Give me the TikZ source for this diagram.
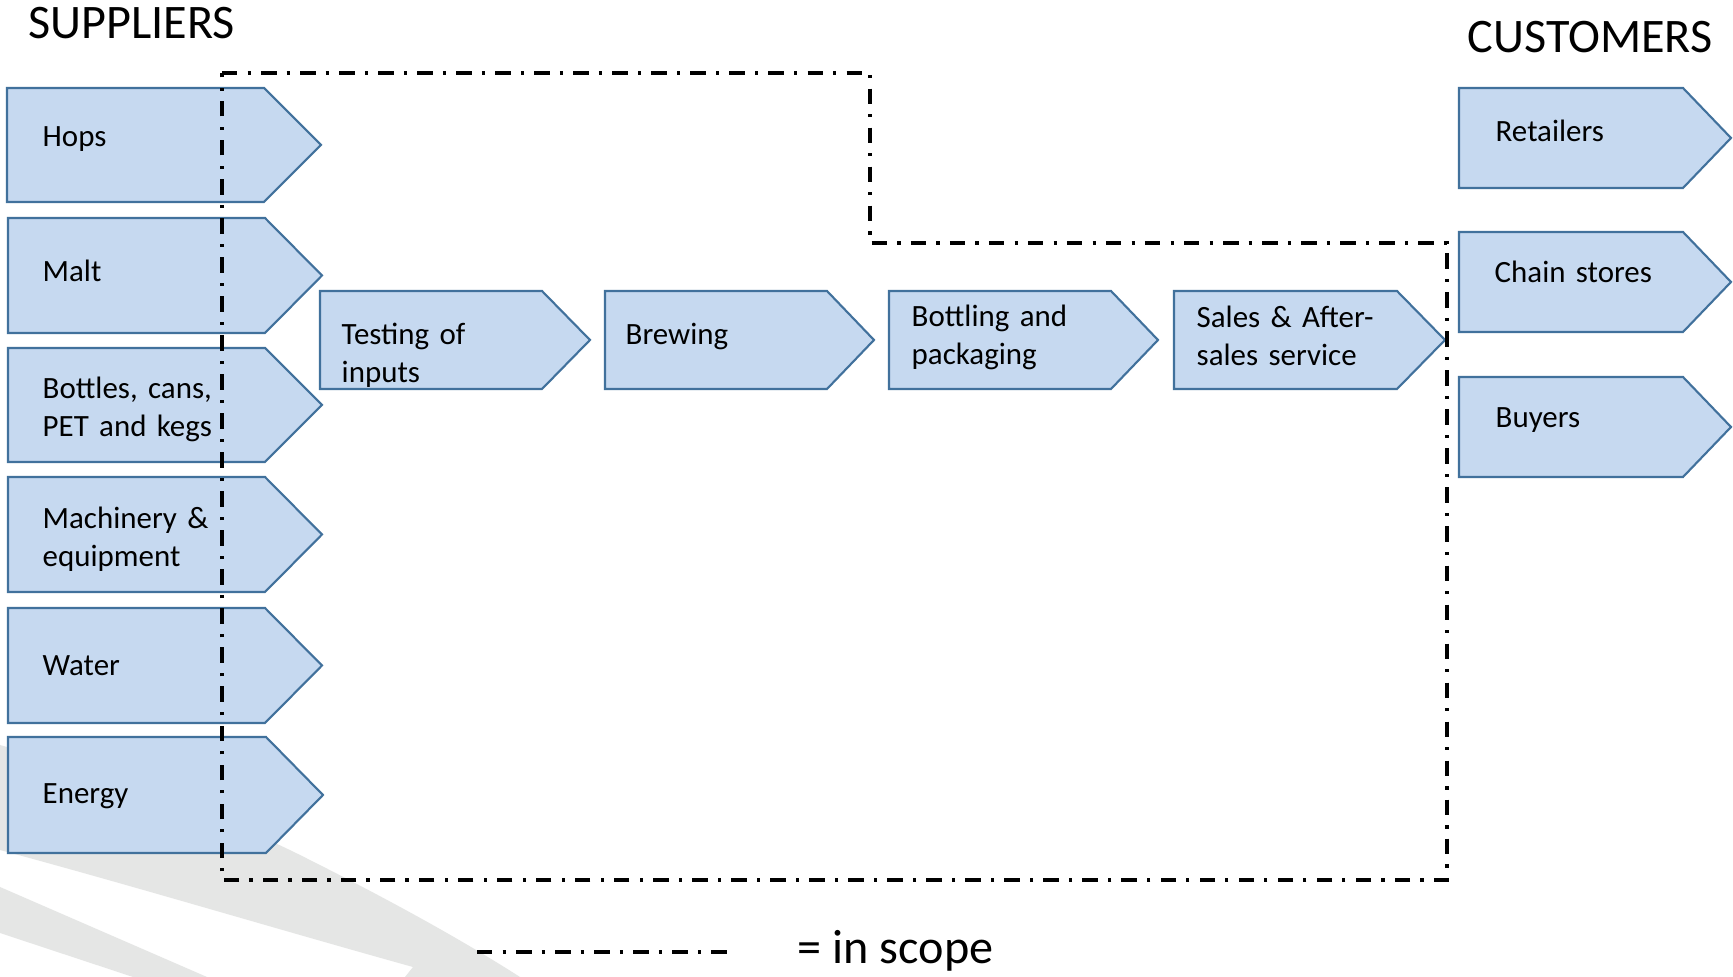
\documentclass[tikz,border=0pt]{standalone}
\usepackage{fontspec}
\setmainfont{Carlito}
\definecolor{chfill}{RGB}{198,217,240}
\definecolor{chdraw}{RGB}{65,113,156}
\definecolor{wm}{RGB}{229,230,229}
\tikzset{
  chev/.style={fill=chfill, draw=chdraw, line width=0.6pt, line join=miter},
  lbl/.style={anchor=base west, inner sep=0pt, text width=6cm, align=left,
              font=\fontsize{8.8}{10.6}\selectfont},
  head/.style={anchor=base west, inner sep=0pt, font=\fontsize{13.7}{16}\selectfont},
  scopeline/.style={line width=1.05pt, dash pattern=on 4.4pt off 2.9pt on 0.9pt off 2.9pt},
  legendline/.style={line width=0.9pt, dash pattern=on 4.4pt off 2.9pt on 0.9pt off 2.9pt}
}
% #1 left, #2 top, #3 bottom, #4 rect right, #5 tip
\newcommand\mychev[5]{%
  \draw[chev] (#1,#2) -- (#4,#2) -- (#5,{(#2+#3)/2}) -- (#4,#3) -- (#1,#3) -- cycle;}
\begin{document}
\begin{tikzpicture}[x=0.01cm, y=-0.01cm]
\useasboundingbox (0,0) rectangle (1733,977);
\fill[white] (0,0) rectangle (1733,977);
% watermark
\fill[wm] (0,745) .. controls (120,780) and (230,820) .. (300,855)
  .. controls (400,905) and (470,945) .. (520,977) -- (405,977) -- (413,967)
  .. controls (280,930) and (130,885) .. (0,850) -- cycle;
\fill[wm] (0,887) -- (207,977) -- (133,977) -- (0,933) -- cycle;
% headings
\node[head] (sup) at (28,39) {SUPPLIERS};
\node[head] (cus) at (1467,53) {CUSTOMERS};
% suppliers
\mychev{7}{88}{202}{264}{321}
\node[lbl] (hops) at (42,147) {Hops};
\mychev{8}{218}{333}{265}{322}
\node[lbl] (malt) at (42,282) {Malt};
\mychev{8}{348}{462}{265}{322}
\node[lbl] (bottles) at (42,399) {Bottles, cans,\\PET and kegs};
\mychev{8}{477}{592}{265}{322}
\node[lbl] (mach) at (42,529) {Machinery \&\\equipment};
\mychev{8}{608}{723}{265}{322}
\node[lbl] (water) at (42,676) {Water};
\mychev{8}{737}{853}{266}{323}
\node[lbl] (energy) at (42,804) {Energy};
% process
\mychev{320}{291}{389}{542}{590}
\node[lbl] (test) at (341,345) {Testing of\\inputs};
\mychev{605}{291}{389}{827}{874}
\node[lbl] (brew) at (625,345) {Brewing};
\mychev{889}{291}{389}{1111}{1158}
\node[lbl] (bottl) at (911,327) {Bottling and\\packaging};
\mychev{1174}{291}{389}{1397}{1445}
\node[lbl] (sales) at (1196,328) {Sales \& After-\\sales service};
% customers
\mychev{1459}{88}{188}{1683}{1731}
\node[lbl] (ret) at (1495,142) {Retailers};
\mychev{1459}{232}{332}{1683}{1731}
\node[lbl] (chain) at (1494,283) {Chain stores};
\mychev{1459}{377}{477}{1683}{1731}
\node[lbl] (buy) at (1495,428) {Buyers};
% scope boundary
\coordinate (s1) at (222,73);
\coordinate (s2) at (870,73);
\coordinate (s3) at (870,243);
\coordinate (s4) at (1447,243);
\coordinate (s5) at (1447,880);
\coordinate (s6) at (222,880);
\draw[scopeline] (s1) -- (s2) -- (s3) -- (s4) -- (s5) -- (s6) -- cycle;
% legend
\coordinate (l1) at (477,952);
\coordinate (l2) at (735,952);
\draw[legendline] (l1) -- (l2);
\node[head] (leg) at (797,964) {= in scope};
\end{tikzpicture}
\end{document}
